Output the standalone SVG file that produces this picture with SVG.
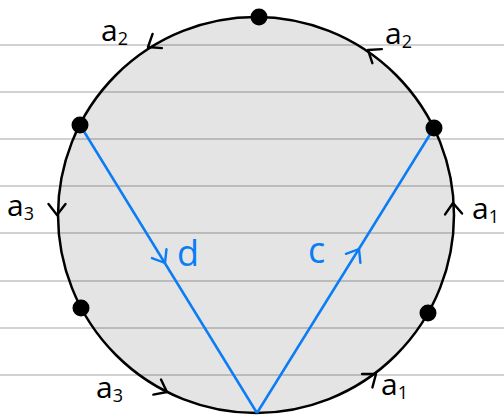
<svg xmlns="http://www.w3.org/2000/svg" width="504" height="416" viewBox="0 0 504 416">
<style>
.rule{stroke:#d2d2d2;stroke-width:2}
.chev{fill:none;stroke:#000;stroke-width:2.4;stroke-linecap:round;stroke-linejoin:round}
.chevb{fill:none;stroke:#0a7cf5;stroke-width:2.4;stroke-linecap:round;stroke-linejoin:round}
.lbl{font-family:"Open Sans","DejaVu Sans",sans-serif;font-size:30px;fill:#000}
.sub{font-size:18px}
.blbl{font-family:"Open Sans","DejaVu Sans",sans-serif;font-size:36px;fill:#0a7cf5}
.dot{fill:#000}
.edge{fill:none;stroke:#0a7cf5;stroke-width:2.5}
</style>
<defs>
<path id="chv" d="M-11,-8.5 L0,0 L-11,8.5"/>
</defs>
<rect width="504" height="416" fill="#fff"/>
<g id="rules">
<line class="rule" x1="0" y1="45" x2="504" y2="45"/>
<line class="rule" x1="0" y1="92" x2="504" y2="92"/>
<line class="rule" x1="0" y1="139" x2="504" y2="139"/>
<line class="rule" x1="0" y1="186" x2="504" y2="186"/>
<line class="rule" x1="0" y1="233" x2="504" y2="233"/>
<line class="rule" x1="0" y1="281" x2="504" y2="281"/>
<line class="rule" x1="0" y1="328" x2="504" y2="328"/>
<line class="rule" x1="0" y1="375" x2="504" y2="375"/>
</g>
<g id="disk">
<circle cx="256" cy="215" r="198" fill="#000" fill-opacity="0.105" stroke="#000" stroke-width="2.5"/>
</g>
<g id="connectors">
<line class="edge" x1="80" y1="125" x2="257" y2="413"/>
<line class="edge" x1="257" y1="413" x2="434" y2="128"/>
<use href="#chv" class="chevb" transform="translate(165,263) rotate(58.4)"/>
<use href="#chv" class="chevb" transform="translate(359,249) rotate(-58.1)"/>
<use href="#chv" class="chev" transform="translate(148,47) rotate(147)"/>
<use href="#chv" class="chev" transform="translate(368,50) rotate(214)"/>
<use href="#chv" class="chev" transform="translate(57,215) rotate(90)"/>
<use href="#chv" class="chev" transform="translate(453,203) rotate(-93)"/>
<use href="#chv" class="chev" transform="translate(167,392) rotate(26.7)"/>
<use href="#chv" class="chev" transform="translate(376,374) rotate(-37.4)"/>
</g>
<g id="n-top"><circle class="dot" cx="259" cy="17" r="8.5"/></g>
<g id="n-ul"><circle class="dot" cx="80" cy="125" r="8.5"/></g>
<g id="n-ur"><circle class="dot" cx="434" cy="128" r="8.5"/></g>
<g id="n-ll"><circle class="dot" cx="81" cy="308" r="8.5"/></g>
<g id="n-lr"><circle class="dot" cx="428" cy="313" r="8.5"/></g>
<g id="labels">
<text class="lbl" x="101" y="41">a<tspan class="sub" dy="4">2</tspan></text>
<text class="lbl" x="385" y="44">a<tspan class="sub" dy="4">2</tspan></text>
<text class="lbl" x="7" y="216">a<tspan class="sub" dy="4">3</tspan></text>
<text class="lbl" x="472" y="219">a<tspan class="sub" dy="4">1</tspan></text>
<text class="lbl" x="96" y="398">a<tspan class="sub" dy="4">3</tspan></text>
<text class="lbl" x="381" y="395">a<tspan class="sub" dy="4">1</tspan></text>
<text class="blbl" x="177" y="266">d</text>
<text class="blbl" x="308" y="263">c</text>
</g>
</svg>
